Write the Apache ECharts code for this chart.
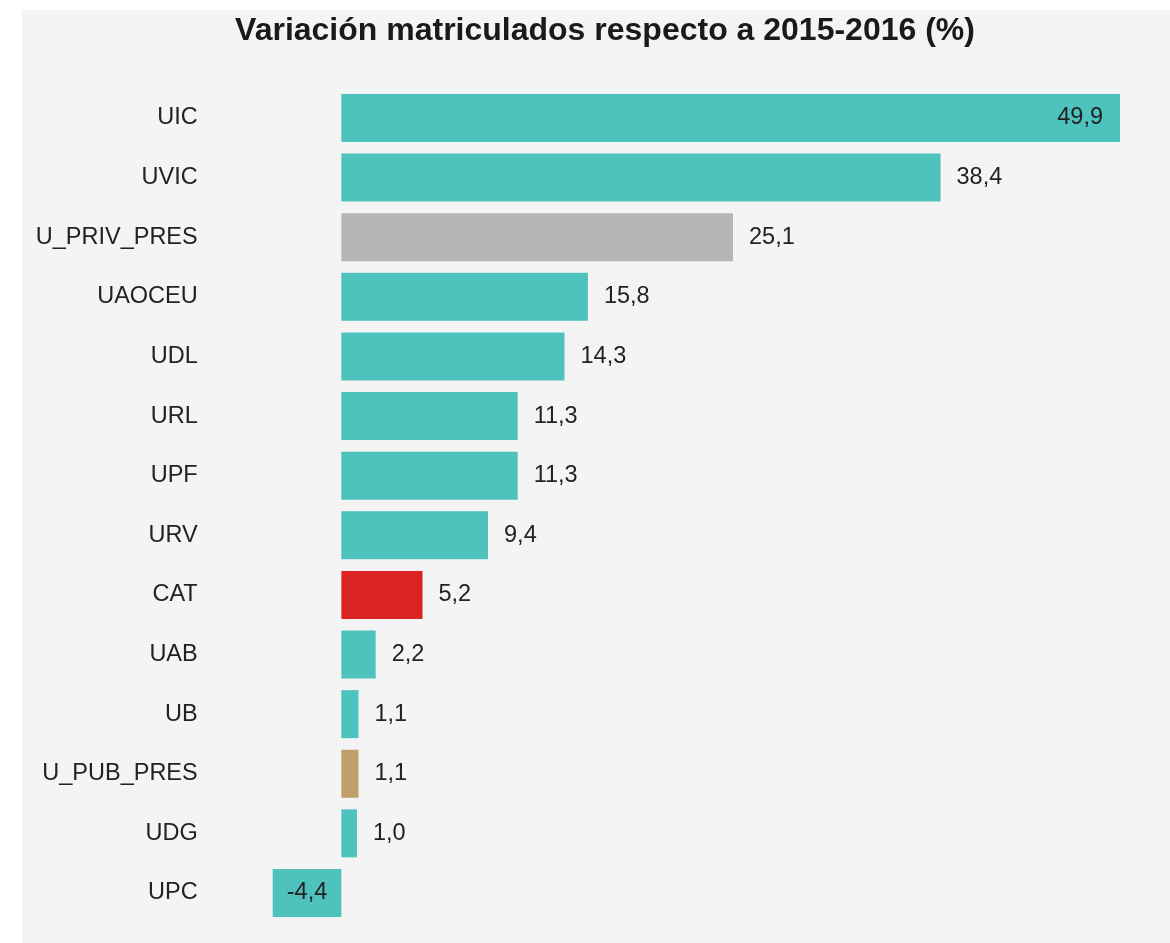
<!DOCTYPE html>
<html>
<head>
<meta charset="utf-8">
<script src="https://cdn.jsdelivr.net/npm/echarts@6/dist/echarts.min.js"></script>
<style>
html, body {
  margin: 0;
  padding: 0;
  background: #ffffff;
  overflow: hidden;
  width: 1170px;
  height: 943px;
}
.panel {
  position: absolute;
  left: 22px;
  top: 10px;
  width: 1166px;
  height: 940px;
  background: #f4f4f4;
}
</style>
</head>
<body>
<div class="panel" id="chart"></div>
<script>
// datos (orden de arriba a abajo)
const universidades = ['UIC', 'UVIC', 'U_PRIV_PRES', 'UAOCEU', 'UDL', 'URL', 'UPF', 'URV', 'CAT', 'UAB', 'UB', 'U_PUB_PRES', 'UDG', 'UPC']
const variacion = [49.9, 38.4, 25.1, 15.8, 14.3, 11.3, 11.3, 9.4, 5.2, 2.2, 1.1, 1.1, 1.0, -4.4]
const colores = ['#4ec3be', '#4ec3be', '#b5b5b5', '#4ec3be', '#4ec3be', '#4ec3be', '#4ec3be', '#4ec3be', '#dc2323', '#4ec3be', '#4ec3be', '#bf9f69', '#4ec3be', '#4ec3be']

const chart = echarts.init(document.getElementById('chart'))

const fmt = v => v.toFixed(1).replace('.', ',')

const seriesData = variacion.map((v, i) => {
  const item = {
    value: v,
    itemStyle: { color: colores[i] }
  }
  if (i === 0) {
    item.label = { position: 'insideRight', distance: 17 }
  } else if (v < 0) {
    item.label = { position: 'inside' }
  }
  return item
})

chart.setOption({
  backgroundColor: '#f4f4f4',
  textStyle: {
    fontFamily: 'Liberation Sans, Arial, sans-serif'
  },
  title: {
    text: 'Variación matriculados respecto a 2015-2016 (%)',
    left: 'center',
    top: 0,
    textStyle: {
      fontSize: 32,
      fontWeight: 'bold',
      color: '#1a1a1a',
      fontFamily: 'Liberation Sans, Arial, sans-serif'
    }
  },
  grid: {
    left: 250.7,
    right: 68,
    top: 78.2,
    height: 834.6
  },
  xAxis: {
    type: 'value',
    min: 'dataMin',
    max: 'dataMax',
    show: false
  },
  yAxis: {
    type: 'category',
    inverse: true,
    data: universidades,
    axisLine: { show: false },
    axisTick: { show: false },
    axisLabel: {
      margin: 75,
      fontSize: 23.5,
      color: '#222'
    }
  },
  series: [
    {
      type: 'bar',
      barWidth: 48,
      data: seriesData,
      label: {
        show: true,
        position: 'right',
        distance: 16,
        fontSize: 23.5,
        color: '#222',
        formatter: p => fmt(p.value)
      }
    }
  ]
})
</script>
</body>
</html>
